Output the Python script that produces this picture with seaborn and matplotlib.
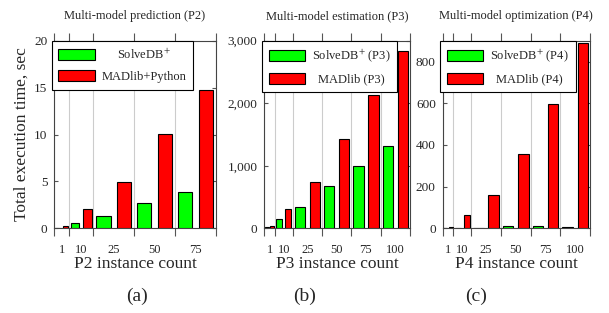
import matplotlib
matplotlib.use('Agg')
import matplotlib.pyplot as plt
import numpy as np
import pandas as pd
import seaborn as sns
from matplotlib.ticker import StrMethodFormatter

GREEN = '#00ff00'
RED = '#ff0000'

# group widths on the x axis (first two groups are squeezed)
GROUP_WIDTHS = [0.36, 0.6, 1.0, 1.0, 1.0, 1.0]

# (a) prediction, P2
counts_p2 = [1, 10, 25, 50, 75]
solvedb_p2 = [0.07, 0.55, 1.35, 2.65, 3.85]
madlib_p2 = [0.27, 2.05, 4.95, 10.1, 14.75]

# (b) estimation, P3
counts_p3 = [1, 10, 25, 50, 75, 100]
solvedb_p3 = [20, 145, 340, 670, 995, 1320]
madlib_p3 = [35, 310, 735, 1425, 2135, 2830]

# (c) optimization, P4
counts_p4 = [1, 10, 25, 50, 75, 100]
solvedb_p4 = [1, 1, 2, 12, 9, 7]
madlib_p4 = [5, 62, 160, 355, 598, 890]

sns.set_theme(style='ticks')
plt.rcParams['font.family'] = ['Liberation Serif', 'DejaVu Serif']
plt.rcParams['mathtext.fontset'] = 'stix'

fig = plt.figure(figsize=(6.09, 3.13), dpi=100)


def draw_panel(rect, counts, solvedb, madlib, labels, ylim, yticks, title, xlabel, comma=False):
    ax = fig.add_axes(rect)
    n = len(counts)
    df = pd.DataFrame({
        'count': counts * 2,
        'system': [labels[0]] * n + [labels[1]] * n,
        'time': solvedb + madlib,
    })
    sns.barplot(data=df, x='count', y='time', hue='system', order=counts,
                hue_order=labels, palette=[GREEN, RED], saturation=1,
                edgecolor='black', linewidth=0.8, legend=False, ax=ax, zorder=3)

    widths = np.array(GROUP_WIDTHS[:n])
    edges = np.concatenate([[0], np.cumsum(widths)])
    centers = edges[:-1] + widths / 2

    # move seaborn's bars into the uneven group layout
    for h, cont in enumerate(ax.containers):
        sign = -1 if h == 0 else 1
        for bar in cont:
            i = int(round(bar.get_x() + bar.get_width() / 2))
            w = 0.35 * widths[i]
            c = centers[i] + sign * 0.255 * widths[i]
            bar.set_x(c - w / 2)
            bar.set_width(w)

    ax.set_xlim(0, edges[-1])
    ax.set_xticks(centers, labels=[str(c) for c in counts])
    ax.set_xticks(edges, minor=True)
    ax.tick_params(axis='x', which='major', length=0, pad=11, labelsize=9)
    ax.tick_params(axis='x', which='minor', direction='out', length=6, width=0.8,
                   color='#555555', top=True, bottom=True)
    ax.grid(False)
    ax.grid(axis='x', which='minor', color='#cccccc', lw=0.8)
    ax.set_axisbelow(True)

    ax.set_ylim(*ylim)
    ax.set_yticks(yticks)
    if comma:
        ax.yaxis.set_major_formatter(StrMethodFormatter('{x:,.0f}'))
    ax.tick_params(axis='y', which='major', direction='in', left=True, right=True,
                   length=3, width=0.8, color='#555555', labelsize=9.5, pad=5)

    for s in ax.spines.values():
        s.set_color('#444444')
        s.set_linewidth(0.8)

    ax.set_xlabel(xlabel, fontsize=12.5, labelpad=0)
    ax.set_ylabel('')
    ax.annotate(title, xy=(0.5, 1), xycoords='axes fraction', xytext=(0, 15.5),
                textcoords='offset points', ha='center', va='baseline', fontsize=9)

    leg = ax.legend(ax.containers, labels, loc='upper left', bbox_to_anchor=(-0.017, 1.0),
                    borderaxespad=0, frameon=True, fancybox=False, edgecolor='black',
                    framealpha=1, fontsize=9, handlelength=2.9, handleheight=1.0,
                    labelspacing=0.65, handletextpad=0.55, borderpad=0.55)
    leg.get_frame().set_linewidth(0.8)
    leg.set_zorder(5)
    return ax, leg


ax_a, leg_a = draw_panel([54.3 / 609, 1 - 228.3 / 313, 161.4 / 609, 187.6 / 313],
                         counts_p2, solvedb_p2, madlib_p2,
                         ['SolveDB$^{+}$', 'MADlib+Python'], (0, 20), [0, 5, 10, 15, 20],
                         'Multi-model prediction (P2)', 'P2 instance count')
ax_a.set_ylabel('Total execution time, sec', fontsize=12.5, labelpad=3)

ax_b, leg_b = draw_panel([264.3 / 609, 1 - 228.3 / 313, 145.7 / 609, 187.6 / 313],
                         counts_p3, solvedb_p3, madlib_p3,
                         ['SolveDB$^{+}$ (P3)', 'MADlib (P3)'], (0, 3000), [0, 1000, 2000, 3000],
                         'Multi-model estimation (P3)', 'P3 instance count', comma=True)

ax_c, leg_c = draw_panel([442.7 / 609, 1 - 228.3 / 313, 147.3 / 609, 187.6 / 313],
                         counts_p4, solvedb_p4, madlib_p4,
                         ['SolveDB$^{+}$ (P4)', 'MADlib (P4)'], (0, 900), [0, 200, 400, 600, 800],
                         'Multi-model optimization (P4)', 'P4 instance count')

for sub, x in [('(a)', 136.7), ('(b)', 305), ('(c)', 476)]:
    fig.text(x / 609, 1 - 296 / 313, sub, ha='center', va='center', fontsize=14)

# center the legend labels in their column
fig.canvas.draw()
for leg in (leg_a, leg_b, leg_c):
    texts = leg.get_texts()
    ws = [t.get_window_extent().width for t in texts]
    for t, w in zip(texts, ws):
        t.set_position(((max(ws) - w) / 2, 0))

fig.savefig('out.png', dpi=100)
